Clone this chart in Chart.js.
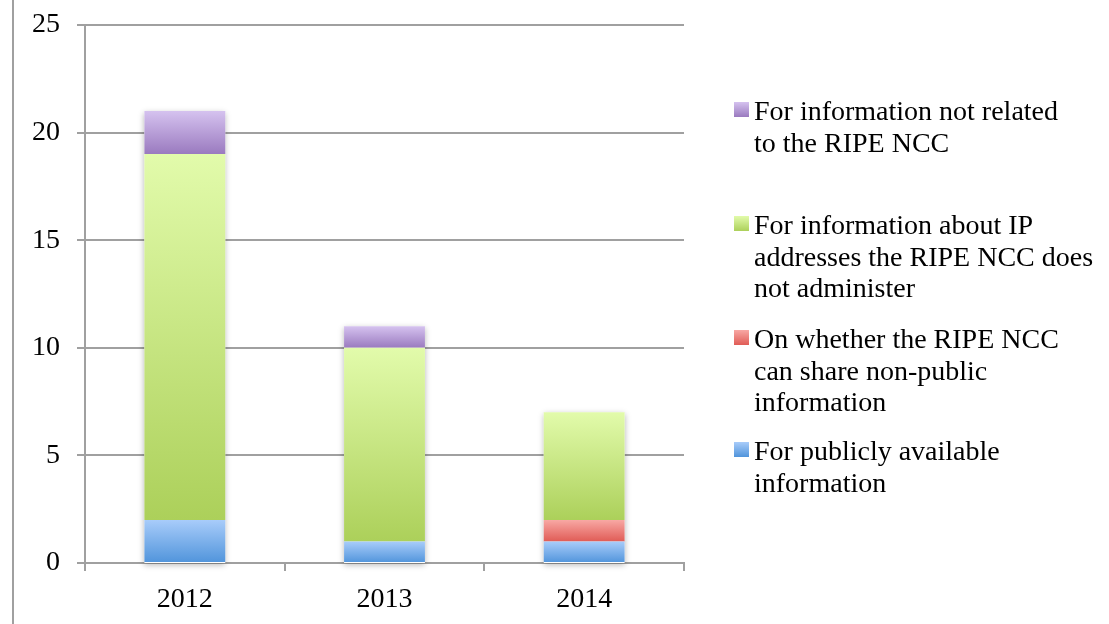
<!DOCTYPE html>
<html>
<head>
<meta charset="utf-8">
<script src="https://cdn.jsdelivr.net/npm/chart.js@4"></script>
<style>
    html, body { margin: 0; padding: 0; background: #fff; }
    #wrap { position: relative; width: 1109px; height: 624px; }
    #legend { position: absolute; left: 0; top: 0; font-family: "Liberation Serif", serif; font-size: 28px; line-height: 31.5px; color: #000; }
    .item { position: absolute; left: 754px; white-space: pre; }
    .swatch { position: absolute; left: -20px; top: 7px; width: 15px; height: 15px; }
</style>
</head>
<body>
<div id="wrap">
    <canvas id="chart"></canvas>
    <div id="legend"></div>
</div>
<script>
const years = ['2012', '2013', '2014'];
const publiclyAvailable = [2, 1, 1];
const nonPublic = [0, 0, 1];
const notAdministered = [17, 9, 5];
const notRelated = [2, 1, 0];

const yTicksMax = 25;
const yTicksStep = 5;

const seriesLabels = [
    'For publicly available\ninformation',
    'On whether the RIPE NCC\ncan share non-public\ninformation',
    'For information about IP\naddresses the RIPE NCC does\nnot administer',
    'For information not related\nto the RIPE NCC'
];
const seriesValues = [publiclyAvailable, nonPublic, notAdministered, notRelated];
const gradientTops = ['#a8ccfa', '#f8a8a4', '#e2fbab', '#d5c2ef'];
const gradientBottoms = ['#5094db', '#e05c56', '#acd05a', '#9a7abf'];

const GRID = '#a0a0a0';

function segmentGradient(ctx) {
    const chart = ctx.chart;
    const d = ctx.datasetIndex;
    if (!chart.chartArea || ctx.type !== 'data') return gradientTops[d];
    const i = ctx.dataIndex;
    let base = 0;
    for (let k = 0; k < d; k++) base += seriesValues[k][i];
    const top = base + seriesValues[d][i];
    const y = chart.scales.y;
    const y0 = y.getPixelForValue(top);
    const y1 = y.getPixelForValue(base);
    if (y1 - y0 < 1) return gradientTops[d];
    const g = chart.ctx.createLinearGradient(0, y0, 0, y1);
    g.addColorStop(0, gradientTops[d]);
    g.addColorStop(1, gradientBottoms[d]);
    return g;
}

// soft shadow behind each stacked column
const stackShadow = {
    id: 'stackShadow',
    beforeDatasetsDraw(chart) {
        const ctx = chart.ctx;
        const y = chart.scales.y;
        const meta = chart.getDatasetMeta(0);
        ctx.save();
        ctx.shadowColor = 'rgba(0,0,0,0.28)';
        ctx.shadowBlur = 6;
        ctx.shadowOffsetX = 0;
        ctx.shadowOffsetY = 2;
        ctx.fillStyle = '#ffffff';
        meta.data.forEach((bar, i) => {
            const total = seriesValues.reduce((s, arr) => s + arr[i], 0);
            const top = y.getPixelForValue(total);
            const bottom = y.getPixelForValue(0);
            ctx.fillRect(bar.x - bar.width / 2, top, bar.width, bottom - top);
        });
        ctx.restore();
    }
};

// thin frame line at the far left
const leftFrame = {
    id: 'leftFrame',
    afterDraw(chart) {
        const ctx = chart.ctx;
        ctx.save();
        ctx.strokeStyle = GRID;
        ctx.lineWidth = 2;
        ctx.beginPath();
        ctx.moveTo(13, 0);
        ctx.lineTo(13, chart.height);
        ctx.stroke();
        ctx.restore();
    }
};

const datasets = seriesValues.map((vals, d) => ({
    label: seriesLabels[d],
    data: vals,
    backgroundColor: segmentGradient,
    borderWidth: 0,
    categoryPercentage: 1,
    barPercentage: 0.405
}));

const chart = new Chart(document.getElementById('chart'), {
    type: 'bar',
    data: { labels: years, datasets: datasets },
    options: {
        responsive: true,
        maintainAspectRatio: false,
        animation: false,
        layout: { padding: { top: 25, right: 425, bottom: 0, left: 0 } },
        plugins: {
            legend: { display: false },
            tooltip: { enabled: false }
        },
        scales: {
            x: {
                stacked: true,
                afterFit(scale) { scale.height = 61; },
                grid: { offset: true, drawOnChartArea: false, drawTicks: true, tickLength: 8, color: GRID, lineWidth: 2 },
                border: { display: true, color: GRID, width: 2 },
                ticks: { color: '#000', padding: 12, font: { family: 'Liberation Serif', size: 28 } }
            },
            y: {
                stacked: true,
                min: 0,
                max: yTicksMax,
                afterFit(scale) { scale.width = 85; scale.paddingTop = 0; scale.paddingBottom = 0; },
                grid: { color: GRID, lineWidth: 2, tickLength: 8 },
                border: { display: true, color: GRID, width: 2 },
                ticks: { stepSize: yTicksStep, color: '#000', padding: 17, font: { family: 'Liberation Serif', size: 28 } }
            }
        }
    },
    plugins: [stackShadow, leftFrame]
});

// legend, top entry is the top of the stack
const legendTops = [435, 323, 209, 95];
const legendEl = document.getElementById('legend');
for (let d = seriesLabels.length - 1; d >= 0; d--) {
    const item = document.createElement('div');
    item.className = 'item';
    item.style.top = legendTops[d] + 'px';
    const sw = document.createElement('span');
    sw.className = 'swatch';
    sw.style.background = 'linear-gradient(' + gradientTops[d] + ', ' + gradientBottoms[d] + ')';
    item.appendChild(sw);
    item.appendChild(document.createTextNode(seriesLabels[d]));
    legendEl.appendChild(item);
}
</script>
</body>
</html>
